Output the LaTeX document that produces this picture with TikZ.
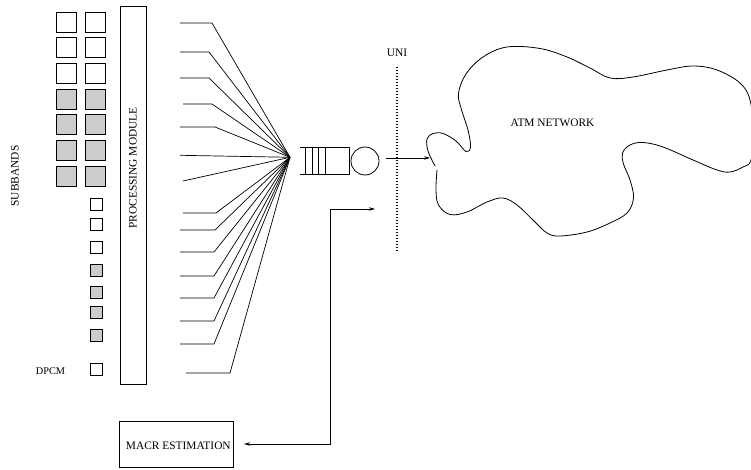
\documentclass[tikz,border=0pt]{standalone}
\usepackage{fontspec}
\setmainfont{Liberation Serif}
\usetikzlibrary{arrows.meta}
\begin{document}
\begin{tikzpicture}[x=1pt,y=-1pt,
  every node/.style={font=\fontsize{11.4}{13}\selectfont, inner sep=0pt},
  ln/.style={line width=0.7pt, line join=round},
  bigsq/.style={draw, line width=0.8pt, minimum size=20pt},
  smallsq/.style={draw, line width=0.8pt, minimum size=12pt},
  shaded/.style={fill=gray!40},
  boxstyle/.style={draw, line width=0.8pt},
  tip/.style={-{Stealth[length=6pt,width=3.5pt]}}
]
\useasboundingbox (0,0) rectangle (751,470);

% big subband squares
\foreach \y [count=\i] in {22,47.5,73,99,124.5,150,176} {
  \ifnum\i>3
    \node[bigsq,shaded] (ba\i) at (66,\y) {};
    \node[bigsq,shaded] (bb\i) at (95,\y) {};
  \else
    \node[bigsq] (ba\i) at (66,\y) {};
    \node[bigsq] (bb\i) at (95,\y) {};
  \fi
}
% small squares
\foreach \y [count=\i] in {204.2,224.2,247.5,270,292.5,312.5,335.2,369.8} {
  \ifnum\i>3 \ifnum\i<8
    \node[smallsq,shaded] (ss\i) at (96,\y) {};
  \else
    \node[smallsq] (ss\i) at (96,\y) {};
  \fi \else
    \node[smallsq] (ss\i) at (96,\y) {};
  \fi
}
\node (subbands) at (15,176) [rotate=90] {SUBBANDS};
\node (dpcm) at (50.5,371) [font=\fontsize{10.3}{12}\selectfont] {DPCM};

% processing module
\node[boxstyle, minimum width=26pt, minimum height=378pt] (pm) at (133,195) {};
\node (pmlabel) at (133,168) [rotate=90] {PROCESSING MODULE};

% converging lines
\coordinate (conv) at (290,157.3);
\foreach \sx/\y/\bx [count=\i] in {180/23/212, 180/52/209, 180/78/209, 183/104/212, 180/127/215,
   183/213/216, 180/230/215, 180/252/214, 180/276/214, 180/298/214, 180/321/214, 180/344/214, 186/373/230} {
  \coordinate (ls\i) at (\sx,\y);
  \coordinate (lb\i) at (\bx,\y);
  \draw[ln] (ls\i) -- (lb\i) -- (conv);
}
\coordinate (ls14) at (180,155.3);
\coordinate (ls15) at (183,181);
\draw[ln] (ls14) -- (conv);
\draw[ln] (ls15) -- (conv);

% queue
\coordinate (qa) at (300,147.5);
\coordinate (qb) at (349,147.5);
\coordinate (qc) at (349,174);
\coordinate (qd) at (300,174);
\draw[ln] (qa) -- (qb) -- (qc) -- (qd);
\foreach \x in {305,312,318.5,325} \draw[ln] (\x,147.5) -- (\x,174);
\node[draw, circle, line width=0.8pt, minimum size=28pt] (server) at (365,161) {};

% UNI
\node (uni) at (397,53) {UNI};
\coordinate (unitop) at (397,67);
\coordinate (unibot) at (397,251);
\draw[line width=1.4pt, dash pattern=on 1.4pt off 1.6pt] (unitop) -- (unibot);

% arrow into network
\coordinate (outstart) at (386,158);
\coordinate (netin) at (430,158);
\draw[ln, tip] (outstart) -- (netin);

% ATM network cloud
\draw[line width=0.8pt] plot[smooth, tension=0.6] coordinates {
 (435,166) (428,151) (427,139) (433,133.5) (443,133.5) (456,141) (466,151.5) (470.5,147) (468,130)
 (461,108) (458.5,93) (466,74) (483,57) (507,47) (540,48.5) (567,57) (590,68) (610,78) (633,77)
 (667,70) (693,66) (717,70) (740,83) (750,100) (753,130) (751,160) (743,167) (730,172) (717,170)
 (693,160) (663,147) (643,142.5) (630,145) (622.5,153) (623.5,164) (630,180) (633.5,198) (627,213)
 (610,223) (587,232) (560,236) (547,233) (533,220) (517,205) (503,198) (487,202) (467,212)
 (450,214.5) (438.5,205) (436,190) (437,170)};
\node (atm) at (552.5,123.3) {ATM NETWORK};

% MACR estimation and feedback
\node[boxstyle, minimum width=114pt, minimum height=46pt] (macr) at (176,444) {};
\node (macrlabel) at (178.3,446) {MACR ESTIMATION};
\coordinate (fbtip) at (244,444);
\coordinate (fbc1) at (330.5,444);
\coordinate (fbc2) at (330.5,209);
\coordinate (fbend) at (375,209);
\draw[ln, tip] (fbc1) -- (fbtip);
\draw[ln, tip] (fbc1) -- (fbc2) -- (fbend);
\end{tikzpicture}
\end{document}
